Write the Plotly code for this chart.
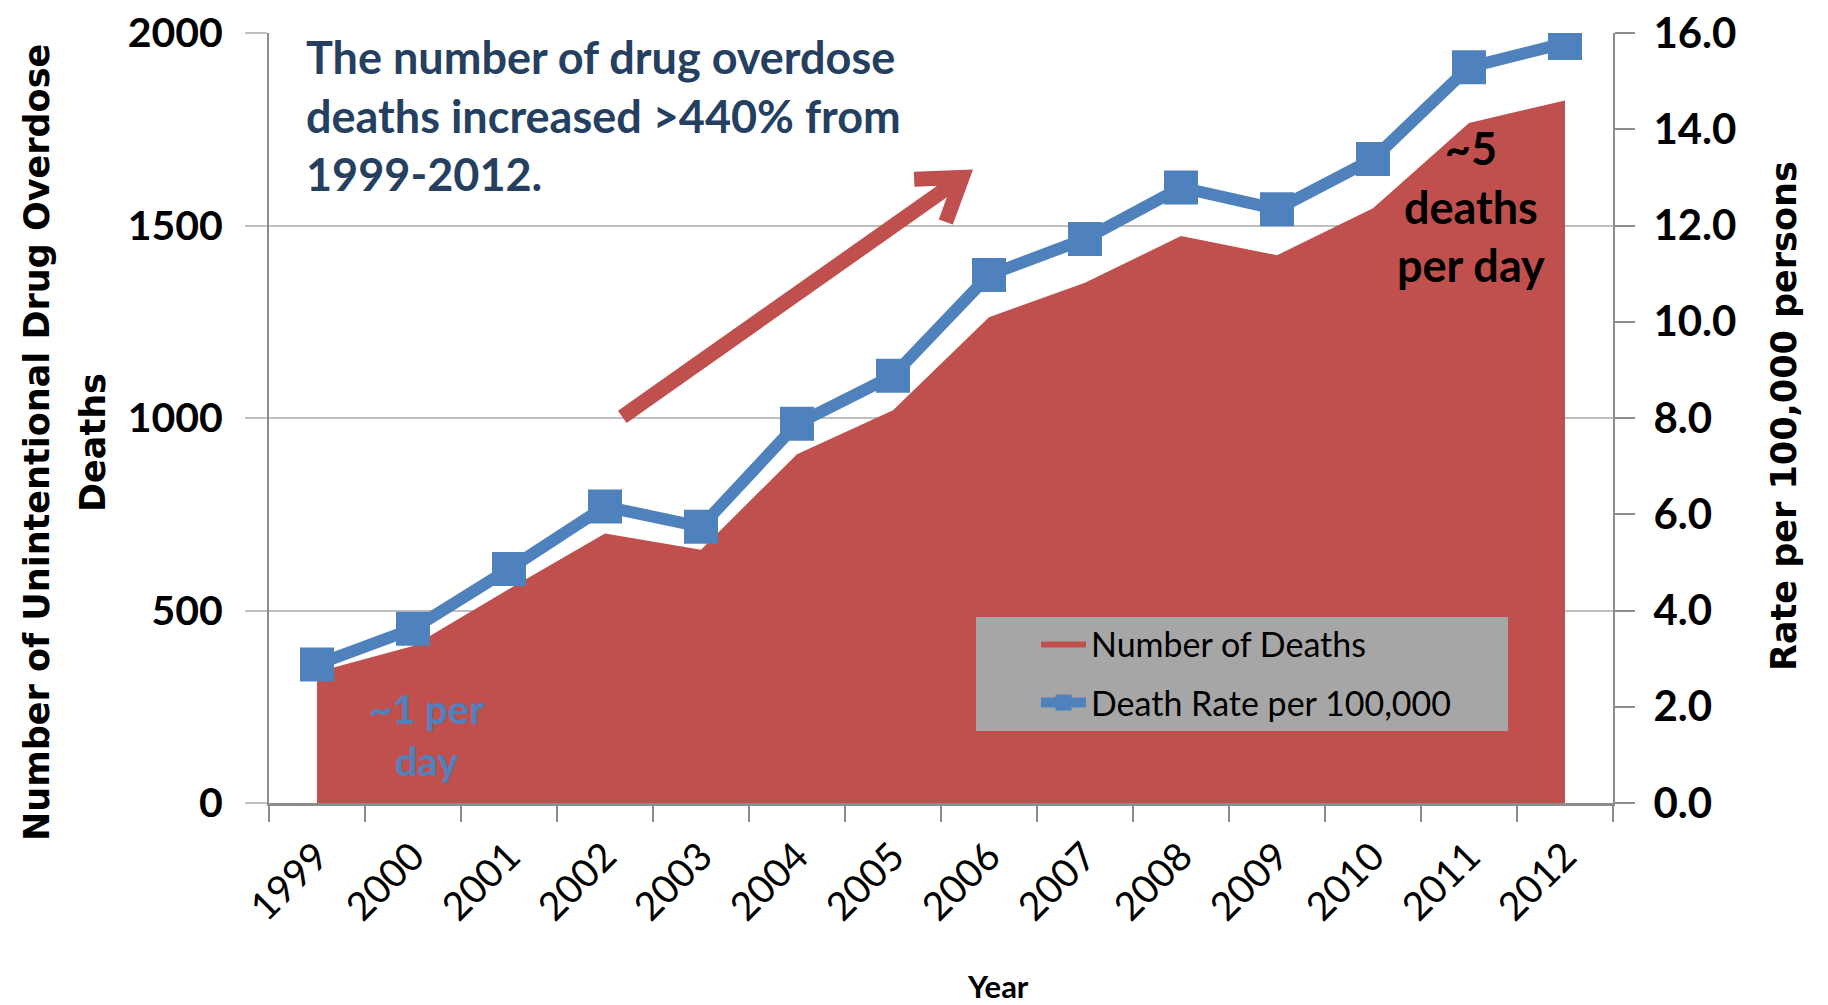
import plotly.graph_objects as go

# ---- data ----
years = [str(y) for y in range(1999, 2013)]
deaths = [340, 408, 556, 700, 658, 906, 1020, 1262, 1351, 1473, 1423, 1545, 1766, 1825]
rate = [2.88, 3.62, 4.86, 6.16, 5.74, 7.88, 8.88, 10.97, 11.72, 12.79, 12.34, 13.38, 15.29, 15.79]
left_ticks = [0, 500, 1000, 1500, 2000]
right_ticks = [0, 2, 4, 6, 8, 10, 12, 14, 16]
right_tick_labels = ["%.1f" % v for v in right_ticks]

RED = "#C0504D"
BLUE = "#4F81BD"
NAVY = "#243F60"
AXIS = "#8C8C8C"
GRID = "#BFBFBF"
NARROW = "Lato, Liberation Sans, sans-serif"
WIDE = "DejaVu Sans, Verdana, sans-serif"

W, H = 1828, 1005
ML, MR, MT, MB = 261, 223, 25, 210
PW, PH = W - ML - MR, H - MT - MB


def px(x):
    return (x - ML) / PW


def py(y):
    return (H - MB - y) / PH


fig = go.Figure()
fig.add_trace(go.Scatter(
    x=years, y=deaths, name="Number of Deaths", mode="lines",
    fill="tozeroy", fillcolor=RED, line=dict(width=0, color=RED),
    legend="legend",
))
fig.add_trace(go.Scatter(
    x=years, y=rate, name="Death Rate per 100,000", mode="lines+markers",
    yaxis="y2", line=dict(color=BLUE, width=12),
    marker=dict(symbol="square", size=34, color=BLUE),
    legend="legend2",
))

# decorative arrow (category index, deaths)
arrow_start = (3.18, 1003)
arrow_tip = (6.72, 1625)
arrow_arm1 = (6.22, 1620)
arrow_arm2 = (6.55, 1509)
path = "M %f,%f L %f,%f M %f,%f L %f,%f L %f,%f" % (
    arrow_start[0], arrow_start[1], arrow_tip[0], arrow_tip[1],
    arrow_arm1[0], arrow_arm1[1], arrow_tip[0], arrow_tip[1], arrow_arm2[0], arrow_arm2[1])
fig.add_shape(type="path", path=path, xref="x", yref="y",
              line=dict(color=RED, width=15), layer="above")

# legend background box
fig.add_shape(type="rect", xref="paper", yref="paper",
              x0=px(968), x1=px(1500), y0=py(723), y1=py(609),
              fillcolor="#A6A6A6", line=dict(width=0), layer="above")

legend_font = dict(family=NARROW, size=34, color="black")
fig.update_layout(
    width=W, height=H,
    margin=dict(l=ML, r=MR, t=MT, b=MB, autoexpand=False),
    paper_bgcolor="white", plot_bgcolor="white",
    showlegend=True,
    legend=dict(x=px(1028), y=py(636), xanchor="left", yanchor="middle",
                bgcolor="rgba(0,0,0,0)", borderwidth=0, font=legend_font, itemwidth=45),
    legend2=dict(x=px(1028), y=py(695), xanchor="left", yanchor="middle",
                 bgcolor="rgba(0,0,0,0)", borderwidth=0, font=legend_font, itemwidth=45),
    xaxis=dict(
        type="category", range=[-0.5, 13.5], tickson="boundaries", automargin=False,
        ticks="outside", ticklen=16, tickwidth=2, tickcolor=AXIS,
        showline=True, linecolor=AXIS, linewidth=3,
        tickangle=-45, showgrid=False, ticklabelstandoff=12,
        tickfont=dict(family=NARROW, size=39, color="black"),
    ),
    yaxis=dict(
        range=[0, 2000], tickvals=left_ticks, automargin=False,
        ticks="outside", ticklen=22, tickwidth=2, tickcolor=GRID,
        showline=True, linecolor=AXIS, linewidth=2, ticklabelstandoff=14,
        showgrid=True, gridcolor=GRID, gridwidth=2, zeroline=False,
        ticklabeloverflow="allow",
        tickfont=dict(family=NARROW, size=41, color="black", weight="bold"),
    ),
    yaxis2=dict(
        range=[0, 16], tickvals=right_ticks, ticktext=right_tick_labels,
        overlaying="y", side="right", automargin=False,
        ticks="outside", ticklen=20, tickwidth=2, tickcolor=AXIS,
        showline=True, linecolor=AXIS, linewidth=2, ticklabelstandoff=10,
        showgrid=False, zeroline=False, ticklabeloverflow="allow",
        tickfont=dict(family=NARROW, size=42, color="black", weight="bold"),
    ),
)

annotations = [
    dict(text="Number of Unintentional Drug Overdose", x=px(29), y=py(435),
         xref="paper", yref="paper", textangle=-90, showarrow=False,
         xanchor="center", yanchor="middle",
         font=dict(family=WIDE, size=35, color="black", weight="bold")),
    dict(text="Deaths", x=px(85), y=py(435),
         xref="paper", yref="paper", textangle=-90, showarrow=False,
         xanchor="center", yanchor="middle",
         font=dict(family=WIDE, size=35, color="black", weight="bold")),
    dict(text="Rate per 100,000 persons", x=px(1776), y=py(408),
         xref="paper", yref="paper", textangle=-90, showarrow=False,
         xanchor="center", yanchor="middle",
         font=dict(family=WIDE, size=35, color="black", weight="bold")),
    dict(text="Year", x=px(990), y=py(978), xref="paper", yref="paper",
         showarrow=False, xanchor="center", yanchor="middle",
         font=dict(family=NARROW, size=31, color="black", weight="bold")),
    dict(text="The number of drug overdose<br>deaths increased >440% from<br>1999-2012.",
         x=px(296), y=py(20), xref="paper", yref="paper",
         xanchor="left", yanchor="top", align="left", showarrow=False,
         font=dict(family=NARROW, size=45, color=NAVY, weight="bold")),
    dict(text="~1 per<br>day", x=px(418), y=py(727),
         xref="paper", yref="paper", showarrow=False, align="center",
         xanchor="center", yanchor="middle",
         font=dict(family=NARROW, size=40, color=BLUE, weight="bold")),
    dict(text="~5<br>deaths<br>per day", x=px(1463), y=py(199),
         xref="paper", yref="paper", showarrow=False, align="center",
         xanchor="center", yanchor="middle",
         font=dict(family=NARROW, size=45, color="black", weight="bold")),
]
fig.update_layout(annotations=annotations)

fig.write_html("out.html")
